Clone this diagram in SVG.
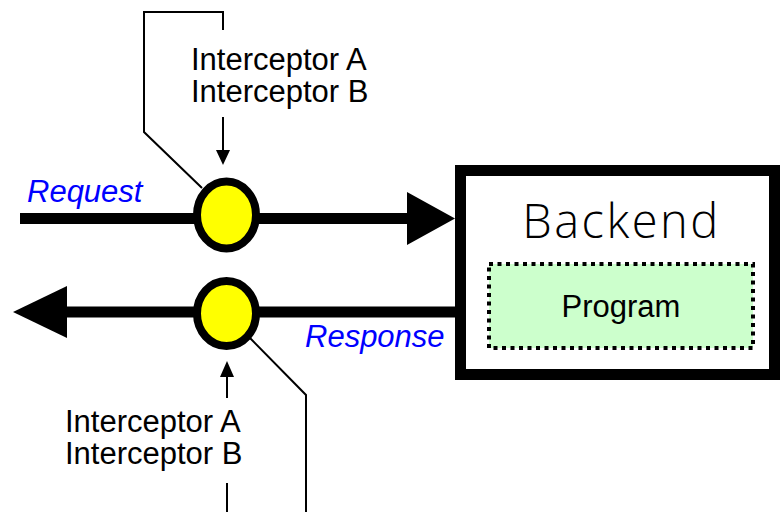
<svg xmlns="http://www.w3.org/2000/svg" width="781" height="512" viewBox="0 0 781 512">
<style>
.lbl{font-family:"Liberation Sans",Arial,sans-serif;font-size:31px;fill:#000}
.blue{font-family:"Liberation Sans",Arial,sans-serif;font-size:31px;font-style:italic;fill:#0000ff}
.thin{fill:none;stroke:#000;stroke-width:2}
.thick{fill:none;stroke:#000;stroke-width:11}
.node{fill:#ffff00;stroke:#000;stroke-width:8}
</style>
<rect width="781" height="512" fill="#fff"/>
<g id="connectors">
<line x1="20" y1="218.5" x2="410" y2="218.5" class="thick"/>
<polygon points="407,192 455,218.5 407,245" fill="#000"/>
<line x1="455" y1="312" x2="62" y2="312" class="thick"/>
<polygon points="67,286 13,312 67,338" fill="#000"/>
<polyline points="223,30 223,12 144,12 144,132 202,188" class="thin"/>
<line x1="223" y1="117" x2="223" y2="152" class="thin"/>
<polygon points="216,150 230,150 223,165" fill="#000"/>
<line x1="227" y1="375" x2="227" y2="398" class="thin"/>
<polygon points="220,377 234,377 227,361" fill="#000"/>
<line x1="227" y1="483" x2="227" y2="512" class="thin"/>
<polyline points="250,338 306,395 306,512" class="thin"/>
</g>
<g id="backend">
<rect x="460.5" y="170.5" width="314" height="204" fill="#fff" stroke="#000" stroke-width="11"/>
<text x="621.5" y="238" text-anchor="middle" font-family="Open Sans, sans-serif" font-weight="300" font-size="47" letter-spacing="2.5">Backend</text>
</g>
<g id="program">
<rect x="489" y="264" width="264" height="84" fill="#ccffcc" stroke="#000" stroke-width="4" stroke-dasharray="4 4.5"/>
<text x="621" y="317" text-anchor="middle" class="lbl">Program</text>
</g>
<g id="request-interceptor">
<ellipse cx="226.5" cy="215" rx="29.5" ry="33.5" class="node"/>
</g>
<g id="response-interceptor">
<ellipse cx="226.5" cy="313.5" rx="29.5" ry="32.5" class="node"/>
</g>
<g id="labels">
<text x="27" y="202" class="blue">Request</text>
<text x="305" y="347" class="blue">Response</text>
<text x="191" y="70" class="lbl">Interceptor A</text>
<text x="191" y="102" class="lbl">Interceptor B</text>
<text x="65" y="432" class="lbl">Interceptor A</text>
<text x="65" y="464" class="lbl">Interceptor B</text>
</g>
</svg>
